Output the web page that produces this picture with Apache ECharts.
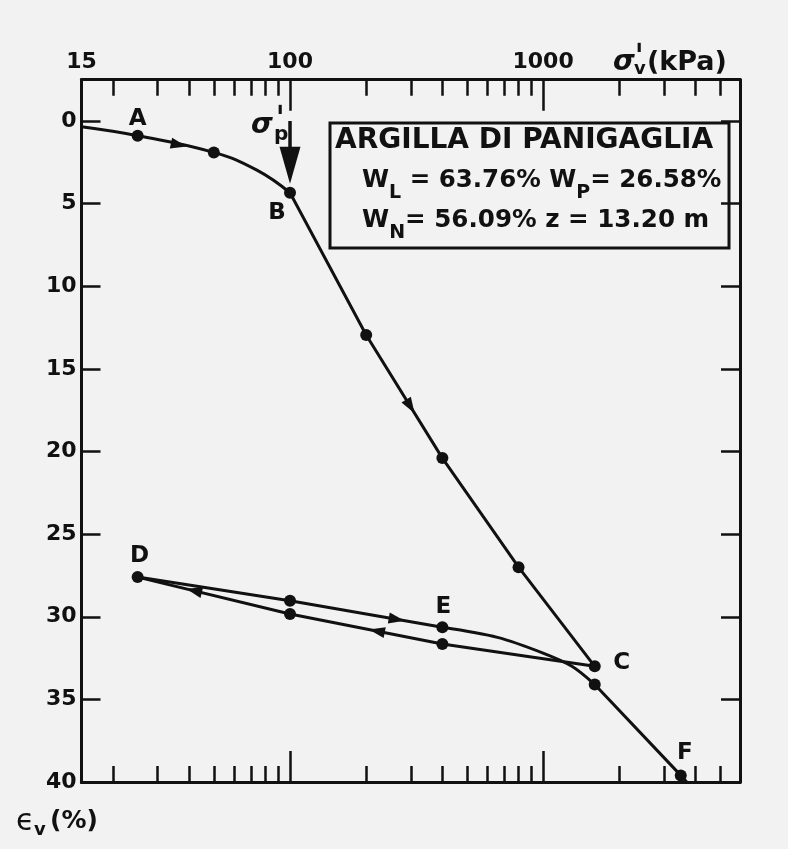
<!DOCTYPE html>
<html><head><meta charset="utf-8">
<script src="https://cdn.jsdelivr.net/npm/echarts@6/dist/echarts.min.js"></script>
<style>html,body{margin:0;padding:0;background:#f2f2f2}#c{width:788px;height:849px}</style>
</head><body><div id="c"></div>
<script>
// ---- axes ----
const stressMin = 15, stressMax = 6000;
const strainMin = -2.5, strainMax = 40;
const xLabelValues = [15, 100, 1000];
const xMajorTicks = [100, 1000];
const xMinorTicks = [20, 30, 40, 50, 60, 70, 80, 90, 200, 300, 400, 500, 600, 700, 800, 900, 2000, 3000, 4000, 5000];
const yLabelValues = [0, 5, 10, 15, 20, 25, 30, 35, 40];
const yTickValues = [0, 5, 10, 15, 20, 25, 30, 35];

// ---- curve branches (σ'v kPa, εv %) ----
const loadStress = [15, 25, 50, 74, 100];
const loadStrain = [0.35, 0.89, 1.9, 2.97, 4.34];
const virginStress = [100, 200, 400, 800, 1600];
const virginStrain = [4.34, 12.95, 20.4, 27.0, 33.0];
const unloadStress = [1600, 400, 100, 25];
const unloadStrain = [33.0, 31.65, 29.83, 27.6];
const reloadStress = [25, 100, 400];
const reloadStrain = [27.6, 29.03, 30.64];
const reloadCurveStress = [400, 660, 1000, 1300, 1600];
const reloadCurveStrain = [30.64, 31.25, 32.2, 33.0, 34.1];
const finalStress = [1600, 3500, 3750];
const finalStrain = [34.1, 39.6, 40.1];

// ---- measured points ----
const pointStress = [25, 50, 100, 200, 400, 800, 1600, 400, 100, 25, 100, 400, 1600, 3500];
const pointStrain = [0.89, 1.9, 4.34, 12.95, 20.4, 27.0, 33.0, 31.65, 29.83, 27.6, 29.03, 30.64, 34.1, 39.6];
const pointNames = ['A', '', 'B', '', '', '', 'C', '', '', 'D', '', 'E', '', 'F'];

// ---- preconsolidation stress ----
const sigmaP = 100;
const sigmaPArrowFrom = 0.0, sigmaPArrowTo = 3.8;

// ---- direction arrows: branch, segment index, fraction ----
const arrowBranch = ['load', 'virgin', 'reload', 'unload', 'unload'];
const arrowSegment = [1, 1, 1, 1, 2];
const arrowFraction = [0.54, 0.58, 0.70, 0.43, 0.63];

const F = 'DejaVu Sans';
const INK = '#111';
const branches = {
  load: [loadStress, loadStrain], virgin: [virginStress, virginStrain],
  unload: [unloadStress, unloadStrain], reload: [reloadStress, reloadStrain]
};
const pairs = (xs, ys) => xs.map((x, i) => [x, ys[i]]);
const labelOffset = { A: [0, -17], B: [-13, 20], C: [27, -3], D: [2, -21], E: [1, -20], F: [4, -22] };

const arrowData = arrowBranch.map((b, i) => {
  const [xs, ys] = branches[b]; const s = arrowSegment[i];
  return [xs[s], ys[s], xs[s + 1], ys[s + 1], arrowFraction[i]];
});

function renderDirArrow(params, api) {
  const p1 = api.coord([api.value(0), api.value(1)]);
  const p2 = api.coord([api.value(2), api.value(3)]);
  const t = api.value(4);
  const dx = p2[0] - p1[0], dy = p2[1] - p1[1], len = Math.hypot(dx, dy);
  const ux = dx / len, uy = dy / len;
  const cx = p1[0] + dx * t, cy = p1[1] + dy * t;
  const L = 16, W = 11;
  return { type: 'polygon', shape: { points: [
    [cx + ux * L / 2, cy + uy * L / 2],
    [cx - ux * L / 2 - uy * W / 2, cy - uy * L / 2 + ux * W / 2],
    [cx - ux * L / 2 + uy * W / 2, cy - uy * L / 2 - ux * W / 2]
  ] }, style: { fill: INK } };
}
function renderBigArrow(params, api) {
  const p1 = api.coord([api.value(0), api.value(1)]);
  const p2 = api.coord([api.value(0), api.value(2)]);
  const L = 37, W = 21;
  return { type: 'group', children: [
    { type: 'line', shape: { x1: p1[0], y1: p1[1], x2: p2[0], y2: p2[1] - L + 4 }, style: { stroke: INK, lineWidth: 3.5 } },
    { type: 'polygon', shape: { points: [[p2[0], p2[1]], [p2[0] - W / 2, p2[1] - L], [p2[0] + W / 2, p2[1] - L]] }, style: { fill: INK } }
  ] };
}

const tickLine = { color: INK, width: 2.5 };
const xBase = {
  type: 'log', logBase: 10, min: stressMin, max: stressMax,
  axisLine: { show: true, onZero: false, lineStyle: { color: INK, width: 3 } },
  splitLine: { show: false }, minorTick: { show: false }, axisLabel: { show: false }
};
const yBase = {
  type: 'value', inverse: true, min: strainMin, max: strainMax,
  axisLine: { show: true, onZero: false, lineStyle: { color: INK, width: 3 } },
  splitLine: { show: false },
  axisTick: { show: true, inside: true, length: 19, customValues: yTickValues, lineStyle: tickLine }
};
const lineSeries = (xs, ys, smooth) => ({
  type: 'line', data: pairs(xs, ys), smooth: smooth, showSymbol: false, symbol: 'none',
  lineStyle: { color: INK, width: 3 }, silent: true, z: 2
});
const txt = (x, y, text, size, extra) => ({ type: 'text', x: x, y: y,
  style: Object.assign({ text: text, fontFamily: F, fontSize: size, fontWeight: 'bold', fill: INK, verticalAlign: 'top', align: 'left' }, extra || {}) });

const chart = echarts.init(document.getElementById('c'), null, { renderer: 'canvas' });
chart.setOption({
  animation: false,
  backgroundColor: '#f2f2f2',
  grid: { left: 81.5, right: 48, top: 79.7, bottom: 67, containLabel: false, outerBoundsMode: 'none' },
  xAxis: [
    Object.assign({}, xBase, { position: 'top',
      axisTick: { show: true, inside: true, length: 31, customValues: xMajorTicks, lineStyle: tickLine },
      axisLabel: { show: true, customValues: xLabelValues, margin: 6, formatter: v => String(v),
        fontFamily: F, fontSize: 22, fontWeight: 'bold', color: INK } }),
    Object.assign({}, xBase, { position: 'top',
      axisTick: { show: true, inside: true, length: 16, customValues: xMinorTicks, lineStyle: tickLine } }),
    Object.assign({}, xBase, { position: 'bottom',
      axisTick: { show: true, inside: true, length: 31, customValues: xMajorTicks, lineStyle: tickLine } }),
    Object.assign({}, xBase, { position: 'bottom',
      axisTick: { show: true, inside: true, length: 16, customValues: xMinorTicks, lineStyle: tickLine } })
  ],
  yAxis: [
    Object.assign({}, yBase, { position: 'left',
      axisLabel: { show: true, customValues: yLabelValues, margin: 5, fontFamily: F, fontSize: 22, fontWeight: 'bold', color: INK } }),
    Object.assign({}, yBase, { position: 'right', axisLabel: { show: false } })
  ],
  series: [
    lineSeries(loadStress, loadStrain, 0.45),
    lineSeries(virginStress, virginStrain, false),
    lineSeries(unloadStress, unloadStrain, false),
    lineSeries(reloadStress, reloadStrain, false),
    lineSeries(reloadCurveStress, reloadCurveStrain, 0.3),
    lineSeries(finalStress, finalStrain, false),
    {
      type: 'scatter', symbol: 'circle', symbolSize: 12, z: 4, silent: true,
      itemStyle: { color: INK, opacity: 1 },
      data: pointStress.map((x, i) => ({
        value: [x, pointStrain[i]],
        label: pointNames[i] ? { show: true, formatter: pointNames[i], position: 'inside', offset: labelOffset[pointNames[i]],
          fontFamily: F, fontSize: 23, fontWeight: 'bold', color: INK } : { show: false }
      }))
    },
    { type: 'custom', renderItem: renderDirArrow, data: arrowData, z: 5, silent: true, encode: { x: 0, y: 1 } },
    { type: 'custom', renderItem: renderBigArrow, data: [[sigmaP, sigmaPArrowFrom, sigmaPArrowTo]], z: 5, silent: true, encode: { x: 0, y: [1, 2] } }
  ],
  graphic: [
    { type: 'rect', shape: { x: 330, y: 123, width: 399, height: 125 }, style: { fill: 'none', stroke: INK, lineWidth: 3 } },
    { type: 'text', x: 335, y: 141, style: { text: 'ARGILLA DI PANIGAGLIA', fontFamily: F, fontSize: 28, fontWeight: 'bold', fill: INK, verticalAlign: 'middle', align: 'left' } },
    { type: 'text', x: 362, y: 181, style: { text: '{b|W}{s|L}{b| = 63.76% W}{s|P}{b|= 26.58%}', verticalAlign: 'middle', align: 'left',
      rich: { b: { fontFamily: F, fontSize: 24.5, fontWeight: 'bold', fill: INK }, s: { fontFamily: F, fontSize: 19, fontWeight: 'bold', fill: INK, padding: [24, 0, 0, 0] } } } },
    { type: 'text', x: 362, y: 221, style: { text: '{b|W}{s|N}{b|= 56.09% z = 13.20 m}', verticalAlign: 'middle', align: 'left',
      rich: { b: { fontFamily: F, fontSize: 24.6, fontWeight: 'bold', fill: INK }, s: { fontFamily: F, fontSize: 19, fontWeight: 'bold', fill: INK, padding: [24, 0, 0, 0] } } } },
    // σ'p label
    txt(251, 112, 'σ', 28, { fontStyle: 'italic' }),
    txt(274, 125, 'p', 20),
    txt(275, 105, 'ˈ', 34),
    // top axis name σ'v (kPa)
    txt(613, 49, 'σ', 28, { fontStyle: 'italic' }),
    txt(634, 60.5, 'v', 18),
    txt(634, 43, 'ˈ', 34),
    txt(647, 49.5, '(kPa)', 27),
    // left axis name εv (%)
    txt(16, 807.5, 'ϵ', 30, { fontWeight: 'normal' }),
    txt(34, 821.5, 'v', 18),
    txt(50, 809, '(%)', 25)
  ]
});
</script>
</body></html>
